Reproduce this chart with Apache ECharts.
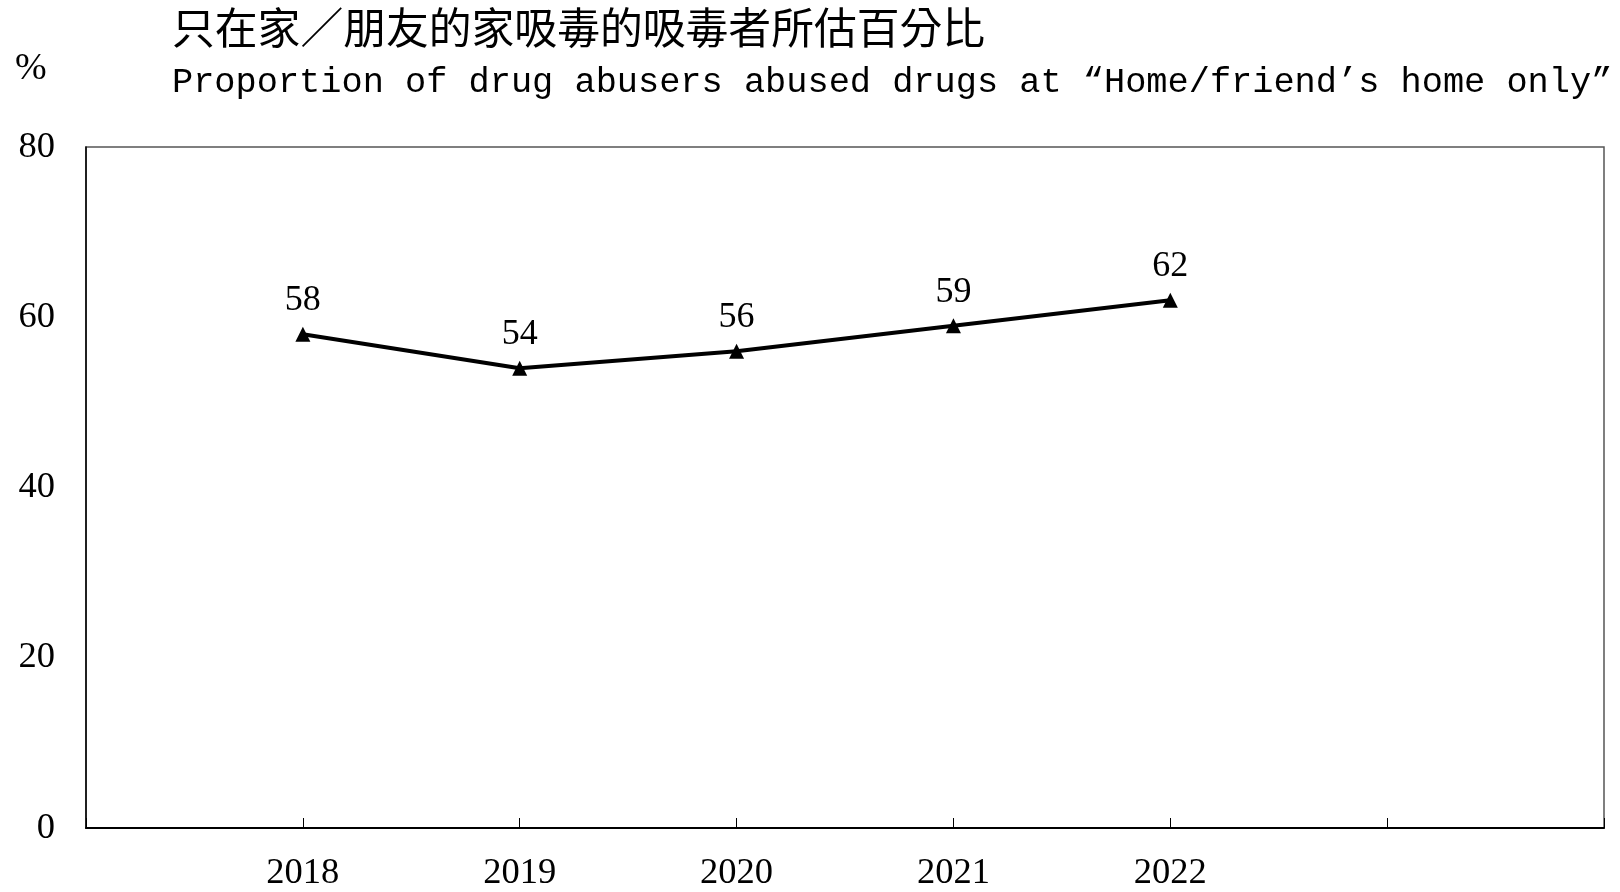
<!DOCTYPE html>
<html>
<head>
<meta charset="utf-8">
<script src="https://cdn.jsdelivr.net/npm/echarts@6/dist/echarts.min.js"></script>
<style>
html,body{margin:0;padding:0;background:#fff;}
#c{width:1620px;height:892px;}
</style>
</head>
<body>
<div id="c"></div>
<script>
const titleZh = '只在家／朋友的家吸毒的吸毒者所估百分比';
const titleEn = 'Proportion of drug abusers abused drugs at “Home/friend’s home only”';
const unitLabel = '%';
const years = ['2018', '2019', '2020', '2021', '2022'];
const values = [58, 54, 56, 59, 62];
const yTicks = [0, 20, 40, 60, 80];
const padBefore = 1;
const padAfter = 2;

const categories = [];
const seriesData = [];
for (let i = 0; i < padBefore; i++) { categories.push(''); seriesData.push(null); }
years.forEach((y, i) => { categories.push(y); seriesData.push(values[i]); });
for (let i = 0; i < padAfter; i++) { categories.push(''); seriesData.push(null); }

const serif = '"Liberation Serif", "Times New Roman", serif';
const chart = echarts.init(document.getElementById('c'), null, {renderer: 'canvas'});
chart.setOption({
  backgroundColor: '#fff',
  animation: false,
  title: [
    {text: titleZh, left: 167, top: 1,
     textStyle: {fontFamily: '"Noto Sans CJK TC", sans-serif', fontSize: 42.8, fontWeight: 'normal', color: '#000'}},
    {text: titleEn, left: 167, top: 60,
     textStyle: {fontFamily: '"Liberation Mono", "DejaVu Sans Mono", monospace', fontSize: 35.3, fontWeight: 'normal', color: '#000'}}
  ],
  graphic: [
    {type: 'text', left: 15, top: 50,
     style: {text: unitLabel, font: '38px ' + serif, fill: '#000'}}
  ],
  grid: {left: 86, right: 16, top: 147, bottom: 60, show: true, borderColor: '#555', borderWidth: 1.5},
  xAxis: {
    type: 'category', data: categories, boundaryGap: false,
    axisLine: {lineStyle: {color: '#000', width: 2}},
    axisTick: {show: true, inside: true, length: 10, lineStyle: {color: '#000', width: 1}},
    axisLabel: {fontFamily: serif, fontSize: 36.5, color: '#000', margin: 27, interval: 0},
    splitLine: {show: false}
  },
  yAxis: {
    type: 'value', min: yTicks[0], max: yTicks[yTicks.length - 1], interval: yTicks[1] - yTicks[0],
    axisLine: {show: true, lineStyle: {color: '#000', width: 1.5}},
    axisTick: {show: false},
    axisLabel: {fontFamily: serif, fontSize: 36.5, color: '#000', margin: 31},
    splitLine: {show: false}
  },
  series: [{
    type: 'line', data: seriesData, connectNulls: false,
    symbol: 'triangle', symbolSize: 15, showAllSymbol: true,
    lineStyle: {color: '#000', width: 4},
    itemStyle: {color: '#000'},
    label: {show: true, position: 'top', distance: 8, fontFamily: serif, fontSize: 36, color: '#000'}
  }]
});
</script>
</body>
</html>
